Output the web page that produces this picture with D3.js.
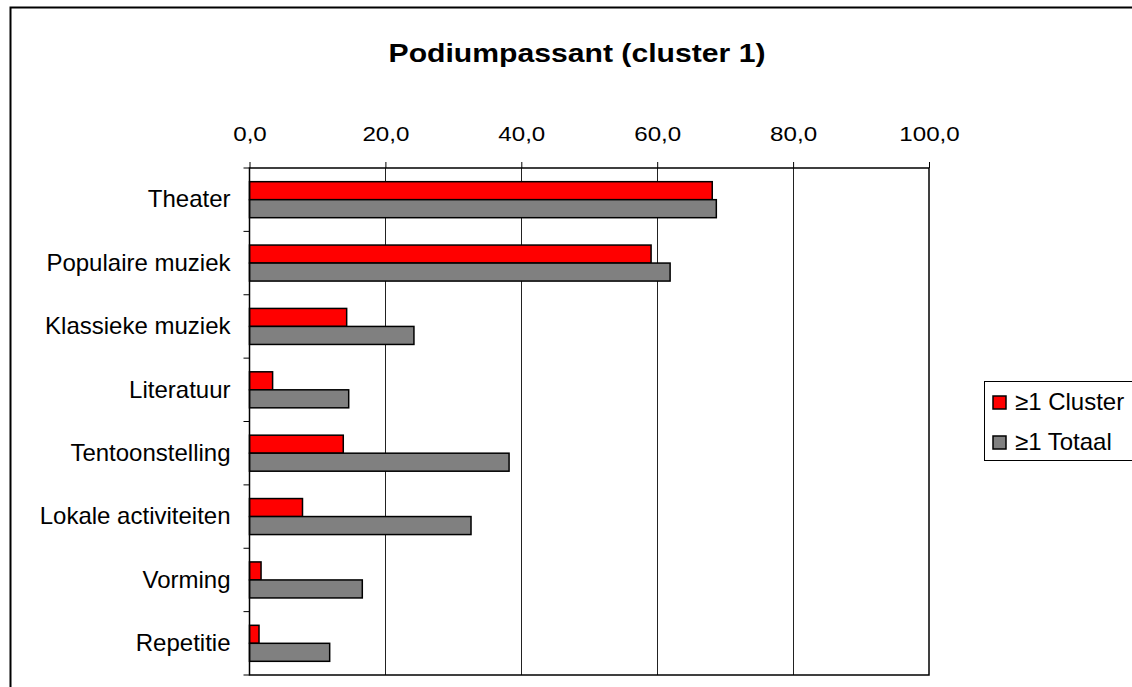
<!DOCTYPE html>
<html>
<head>
<meta charset="utf-8">
<script src="https://cdn.jsdelivr.net/npm/d3@7"></script>
<style>
  body { margin: 0; background: #fff; }
  text { font-family: "Liberation Sans", Arial, sans-serif; fill: #000; }
</style>
</head>
<body>
<div id="chart"></div>
<script>
var categories = ["Theater", "Populaire muziek", "Klassieke muziek", "Literatuur",
                  "Tentoonstelling", "Lokale activiteiten", "Vorming", "Repetitie"];
var clusterValues = [68.1, 59.1, 14.3, 3.4, 13.8, 7.8, 1.7, 1.4];
var totaalValues = [68.7, 61.9, 24.2, 14.6, 38.2, 32.6, 16.6, 11.8];
var seriesNames = ["\u22651 Cluster", "\u22651 Totaal"];
var seriesColors = ["#ff0000", "#808080"];
var xTicks = [0, 20, 40, 60, 80, 100];

var W = 1132, H = 687;
var plot = {left: 249.5, right: 929, top: 168, bottom: 675};

var svg = d3.select("#chart").append("svg")
    .attr("width", W)
    .attr("height", H);

// outer chart frame (right / bottom fall off the picture)
svg.append("path")
    .attr("d", "M10.5," + H + "V7.5H" + W)
    .attr("fill", "none")
    .attr("stroke", "#000")
    .attr("stroke-width", 2);

// title is a bit wider than its height suggests, so stretch it
svg.append("text")
    .attr("transform", "translate(577,62) scale(1.16,1)")
    .attr("text-anchor", "middle")
    .style("font-size", "26px")
    .style("font-weight", "bold")
    .text("Podiumpassant (cluster 1)");

var x = d3.scaleLinear().domain([0, 100]).range([plot.left, plot.right]);
var y = d3.scaleBand().domain(categories).range([plot.top, plot.bottom]).paddingInner(0).paddingOuter(0);
var inner = d3.scaleBand().domain(seriesNames).range([0, y.bandwidth()]).paddingInner(0).paddingOuter(0.76);

// grid lines
svg.selectAll(".grid").data(xTicks.slice(1, -1)).enter().append("line")
    .attr("x1", d => Math.round(x(d)) + 0.5)
    .attr("x2", d => Math.round(x(d)) + 0.5)
    .attr("y1", plot.top)
    .attr("y2", plot.bottom)
    .attr("stroke", "#222")
    .attr("stroke-width", 1);

// top axis
var xAxis = d3.axisTop(x).tickValues(xTicks).tickSize(6).tickSizeOuter(0)
    .tickFormat(d => d3.format(".1f")(d).replace(".", ","));
var gx = svg.append("g").attr("transform", "translate(0," + plot.top + ")").call(xAxis);
gx.select(".domain").remove();
gx.selectAll("line").attr("stroke", "#000");
gx.selectAll("text")
    .attr("y", null)
    .attr("dy", null)
    .attr("transform", "translate(0,-27) scale(1.15,1)")
    .style("font-size", "21px");

// left axis
var yAxis = d3.axisLeft(y).tickSize(0).tickPadding(19);
var gy = svg.append("g").attr("transform", "translate(" + plot.left + ",0)").call(yAxis);
gy.select(".domain").remove();
gy.selectAll("text").style("font-size", "24px");

var bounds = d3.range(categories.length + 1).map(i => plot.top + i * y.step());
svg.selectAll(".ytick").data(bounds).enter().append("line")
    .attr("x1", plot.left - 6)
    .attr("x2", plot.left)
    .attr("y1", d => d)
    .attr("y2", d => d)
    .attr("stroke", "#000");

// bars
var rows = categories.map((c, i) => ({cat: c, vals: [clusterValues[i], totaalValues[i]]}));
var groups = svg.selectAll(".row").data(rows).enter().append("g")
    .attr("transform", d => "translate(0," + y(d.cat) + ")");
groups.selectAll("rect").data(d => d.vals.map((v, j) => ({v: v, s: seriesNames[j], c: seriesColors[j]})))
    .enter().append("rect")
    .attr("x", x(0))
    .attr("y", d => inner(d.s))
    .attr("width", d => x(d.v) - x(0))
    .attr("height", inner.bandwidth())
    .attr("fill", d => d.c)
    .attr("stroke", "#000")
    .attr("stroke-width", 1.5);

// plot frame
svg.append("rect")
    .attr("x", plot.left)
    .attr("y", plot.top)
    .attr("width", plot.right - plot.left)
    .attr("height", plot.bottom - plot.top)
    .attr("fill", "none")
    .attr("stroke", "#000")
    .attr("stroke-width", 1.5);

// legend
var lg = svg.append("g").attr("transform", "translate(984,381)");
lg.append("rect")
    .attr("x", 0.5).attr("y", 0.5)
    .attr("width", 160).attr("height", 79)
    .attr("fill", "#fff")
    .attr("stroke", "#000");
var items = lg.selectAll(".item").data(seriesNames).enter().append("g")
    .attr("transform", (d, i) => "translate(0," + (15 + i * 40) + ")");
items.append("rect")
    .attr("x", 9).attr("width", 13).attr("height", 13)
    .attr("fill", (d, i) => seriesColors[i])
    .attr("stroke", "#000")
    .attr("stroke-width", 1.5);
items.append("text")
    .attr("x", 31).attr("y", 14)
    .style("font-size", "24px")
    .text(d => d);
</script>
</body>
</html>
